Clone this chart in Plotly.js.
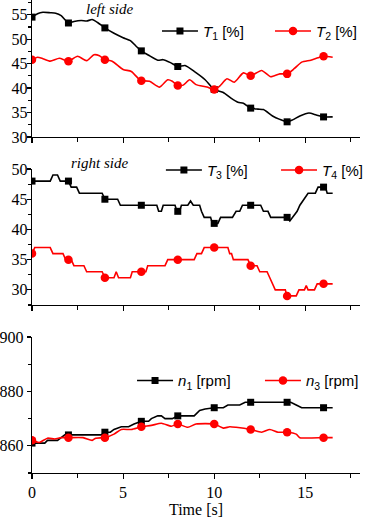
<!DOCTYPE html>
<html>
<head>
<meta charset="utf-8">
<script src="https://cdn.plot.ly/plotly-3.0.1.min.js"></script>
<style>
  html, body { margin: 0; padding: 0; background: #fff; }
  #chart { width: 368px; height: 528px; }
</style>
</head>
<body>
<div id="chart"></div>
<script>
// Marker times (every 2 s)
const tMark = [0, 2, 4, 6, 8, 10, 12, 14, 16];

// Left side: T1 and T2 [%]
const tT1 = [0, 0.3, 0.6, 1.0, 1.3, 1.6, 2.0, 2.3, 2.7, 3.0, 3.3, 3.6, 4.0, 4.5, 5.0, 5.4, 5.7, 6.0, 6.4, 6.9, 7.2, 7.6, 8.0, 8.4, 8.9, 9.5, 10.0, 10.5, 10.9, 11.3, 11.6, 12.0, 12.4, 12.7, 13.2, 13.6, 14.0, 14.3, 14.7, 15.2, 15.6, 16.0, 16.5];
const vT1 = [54.5, 55.2, 55.5, 55.4, 55.3, 54.8, 53.3, 53.6, 53.8, 53.7, 54.0, 53.4, 52.3, 51.2, 50.3, 49.7, 48.6, 47.6, 46.7, 45.7, 45.8, 45.2, 44.4, 44.6, 43.4, 41.7, 39.7, 39.1, 38.0, 37.1, 36.9, 35.9, 35.7, 35.6, 34.3, 33.6, 33.1, 33.5, 34.3, 34.9, 34.5, 34.1, 34.1];
const mT1 = [54.5, 53.3, 52.3, 47.6, 44.4, 39.7, 35.9, 33.1, 34.1];

const tT2 = [0, 0.3, 0.6, 1.0, 1.5, 2.0, 2.5, 3.0, 3.4, 3.7, 4.0, 4.4, 5.0, 5.45, 5.9, 6.0, 6.45, 7.0, 7.45, 7.7, 8.0, 8.3, 8.65, 9.0, 9.6, 10.0, 10.3, 10.7, 11.1, 11.6, 12.0, 12.6, 13.1, 13.6, 14.0, 14.4, 14.8, 15.3, 15.7, 16.0, 16.5];
const vT2 = [45.8, 46.3, 46.0, 45.5, 46.1, 45.5, 46.5, 45.6, 46.8, 46.6, 45.8, 45.5, 43.8, 43.4, 41.7, 41.5, 41.4, 40.2, 41.7, 41.4, 40.5, 40.6, 41.7, 40.7, 40.2, 39.7, 40.4, 41.9, 41.2, 43.1, 42.5, 43.6, 42.3, 42.9, 42.9, 44.0, 45.3, 45.7, 46.2, 46.5, 46.3];
const mT2 = [45.8, 45.5, 45.8, 41.5, 40.5, 39.7, 42.5, 42.9, 46.5];

// Right side: T3 and T4 [%]
const tT3 = [0, 1.0, 1.15, 1.4, 1.55, 2.0, 2.15, 2.45, 2.6, 3.85, 4.0, 4.7, 4.85, 6.85, 6.95, 7.1, 7.2, 7.85, 7.95, 8.1, 8.2, 8.55, 8.7, 8.85, 9.2, 9.3, 9.45, 9.8, 9.9, 10.2, 10.35, 11.0, 11.2, 11.4, 11.55, 12.55, 12.7, 12.95, 13.1, 14.0, 14.15, 14.3, 14.55, 14.7, 14.95, 15.15, 15.55, 15.7, 16.1, 16.2, 16.5];
const vT3 = [48, 48, 49, 49, 48, 48, 47, 47, 46, 46, 45, 45, 44, 44, 43, 43, 44, 44, 43, 43, 44, 44, 44.7, 44, 44, 43, 42, 42, 41, 41, 42, 42, 43, 43, 44, 44, 43, 43, 42, 42, 41.4, 42, 43, 44, 45, 46, 46, 47, 47, 46, 46];
const mT3 = [48, 48, 45, 44, 43, 41, 44, 42, 47];

const tT4 = [0, 0.15, 1.0, 1.15, 1.7, 1.85, 2.15, 2.3, 2.85, 3.0, 3.85, 4.0, 4.5, 4.62, 4.75, 5.4, 5.5, 6.25, 6.35, 7.3, 7.45, 8.9, 9.05, 9.3, 9.45, 10.75, 10.85, 10.95, 11.05, 11.85, 12.0, 12.35, 12.5, 12.9, 13.05, 13.2, 13.35, 13.9, 14.0, 14.5, 14.65, 14.95, 15.05, 15.15, 15.5, 15.65, 16.0, 16.5];
const vT4 = [36, 37, 37, 36, 36, 35, 35, 34, 34, 33, 33, 32, 32, 33, 32, 32, 33, 33, 34, 34, 35, 35, 36, 36, 37, 37, 36, 36, 35, 35, 34, 34, 33, 33, 32, 31, 30, 30, 29, 29, 30, 30, 30.7, 30, 30, 31, 31, 31];
const mT4 = [36, 35, 32, 33, 35, 37, 34, 29, 31];

// Rotational speeds n1 and n3 [rpm]
const tN1 = [0, 0.7, 0.85, 1.4, 1.6, 1.8, 2.0, 3.8, 4.0, 4.3, 4.5, 4.9, 5.3, 5.6, 6.0, 6.4, 6.55, 6.9, 7.1, 7.3, 7.7, 8.0, 8.9, 9.2, 9.5, 10.0, 10.5, 10.75, 11.4, 11.7, 12.0, 14.0, 14.2, 14.5, 14.8, 16.0, 16.5];
const vN1 = [861, 861, 862, 862, 863, 864, 864, 864, 865, 865, 866, 867, 867, 868, 869, 869, 870, 871, 871, 870, 870, 871, 871, 873, 873.5, 874, 874, 875, 875, 876, 876, 876, 876, 875, 874, 874, 874];
const mN1 = [861, 864, 865, 869, 871, 874, 876, 876, 874];

const tN3 = [0, 0.4, 0.85, 1.25, 1.6, 2.0, 2.8, 3.3, 3.5, 4.0, 4.5, 4.9, 5.45, 6.0, 6.55, 7.1, 7.65, 8.0, 8.55, 9.0, 10.0, 10.5, 10.85, 11.2, 12.0, 12.6, 13.05, 13.5, 14.0, 14.5, 14.7, 16.0, 16.5];
const vN3 = [862, 861.2, 862.8, 862.5, 863, 863, 863, 862, 862.8, 863, 864.3, 866, 866, 867, 867.5, 868.3, 867.2, 868, 866.8, 868, 868, 866.5, 867, 866.8, 866, 865, 866, 865, 865, 864.3, 863, 863, 863];
const mN3 = [862, 863, 863, 867, 868, 868, 866, 865, 863];

// Legend labels
const labT1 = '<i>T</i><sub>1</sub> [%]';
const labT2 = '<i>T</i><sub>2</sub> [%]';
const labT3 = '<i>T</i><sub>3</sub> [%]';
const labT4 = '<i>T</i><sub>4</sub> [%]';
const labN1 = '<i>n</i><sub>1</sub> [rpm]';
const labN3 = '<i>n</i><sub>3</sub> [rpm]';

const BLACK = '#000000';
const RED = '#ff0000';
const LW = 1.6;

// Marker points separated by gaps, so the trace shows a line+marker legend
// symbol without joining the markers to each other.
function gapped(xs, ys) {
  const gx = [], gy = [];
  xs.forEach((x, i) => { gx.push(x, x); gy.push(ys[i], null); });
  return { x: gx, y: gy };
}

function series(t, v, tm, vm, name, color, symbol, size, shape, xa, ya, legend) {
  const m = gapped(tm, vm);
  return [
    { x: t, y: v, mode: 'lines', xaxis: xa, yaxis: ya, showlegend: false, hoverinfo: 'skip',
      line: { color: color, width: LW, shape: shape, smoothing: 0.6 } },
    { x: m.x, y: m.y, mode: 'lines+markers', name: name, xaxis: xa, yaxis: ya, legend: legend,
      connectgaps: false,
      line: { color: color, width: LW },
      marker: { color: color, symbol: symbol, size: size, line: { width: 0 } } }
  ];
}

const data = [].concat(
  series(tT1, vT1, tMark, mT1, labT1, BLACK, 'square', 7, 'spline', 'x3', 'y', 'legend'),
  series(tT2, vT2, tMark, mT2, labT2, RED, 'circle', 8.5, 'spline', 'x3', 'y', 'legend2'),
  series(tT3, vT3, tMark, mT3, labT3, BLACK, 'square', 7, 'linear', 'x2', 'y2', 'legend3'),
  series(tT4, vT4, tMark, mT4, labT4, RED, 'circle', 8.5, 'linear', 'x2', 'y2', 'legend4'),
  series(tN1, vN1, tMark, mN1, labN1, BLACK, 'square', 7, 'linear', 'x', 'y3', 'legend5'),
  series(tN3, vN3, tMark, mN3, labN3, RED, 'circle', 8.5, 'spline', 'x', 'y3', 'legend6')
);

const SERIF = '"Liberation Serif", "Times New Roman", serif';
const SANS = '"Liberation Sans", Arial, sans-serif';

function xAxis(anchor, labels) {
  return {
    anchor: anchor, range: [0, 18], dtick: 5, tick0: 0,
    showline: true, linecolor: '#000', linewidth: 1.2, mirror: false,
    ticks: 'outside', ticklen: 5, tickwidth: 1.2, tickcolor: '#000',
    minor: { dtick: 2.5, ticks: 'outside', ticklen: 4, tickwidth: 1.2, tickcolor: '#000' },
    showgrid: false, zeroline: false, showticklabels: labels,
    tickfont: { family: SERIF, size: 16, color: '#000' }
  };
}

function yAxis(domain, range, dtick, minorDtick, standoff) {
  return {
    domain: domain, range: range, dtick: dtick, tick0: 0,
    showline: true, linecolor: '#000', linewidth: 1.2,
    ticks: 'outside', ticklen: 4, tickwidth: 1.2, tickcolor: '#000',
    minor: { dtick: minorDtick, ticks: 'outside', ticklen: 3, tickwidth: 1.2, tickcolor: '#000' },
    showgrid: false, zeroline: false,
    ticklabelstandoff: standoff,
    tickfont: { family: SERIF, size: 16, color: '#000' }
  };
}

function legendBox(x, y) {
  return {
    orientation: 'h', x: x, y: y, xanchor: 'left', yanchor: 'middle',
    bgcolor: 'rgba(0,0,0,0)', borderwidth: 0, itemwidth: 36,
    font: { family: SANS, size: 15, color: '#000' }
  };
}

const layout = {
  width: 368, height: 528,
  margin: { l: 32, r: 8, t: 0, b: 55, autoexpand: false },
  paper_bgcolor: '#fff', plot_bgcolor: '#fff',
  showlegend: true,
  xaxis: Object.assign(xAxis('y3', true), {
    title: { text: 'Time [s]', font: { family: SERIF, size: 16, color: '#000' }, standoff: 3 }
  }),
  xaxis2: xAxis('y2', false),
  xaxis3: xAxis('y', false),
  yaxis: yAxis([0.7104, 1], [30, 58], 5, 2.5, -4),
  yaxis2: yAxis([0.3552, 0.6427], [27.5, 50], 5, 2.5, -4),
  yaxis3: yAxis([0, 0.2875], [850, 900], 20, 10, 0),
  legend: legendBox(0.381, 0.934),
  legend2: legendBox(0.7256, 0.934),
  legend3: legendBox(0.393, 0.640),
  legend4: legendBox(0.744, 0.640),
  legend5: legendBox(0.305, 0.195),
  legend6: legendBox(0.695, 0.195),
  annotations: [
    { text: '<i>left side</i>', xref: 'paper', yref: 'paper', x: 0.237, y: 1,
      xanchor: 'center', yanchor: 'top', borderpad: 0, showarrow: false,
      font: { family: SERIF, size: 15, color: '#000' } },
    { text: '<i>right side</i>', xref: 'paper', yref: 'paper', x: 0.207, y: 0.655,
      xanchor: 'center', yanchor: 'middle', showarrow: false,
      font: { family: SERIF, size: 15, color: '#000' } }
  ]
};

Plotly.newPlot('chart', data, layout, { displayModeBar: false, staticPlot: true });
</script>
</body>
</html>
